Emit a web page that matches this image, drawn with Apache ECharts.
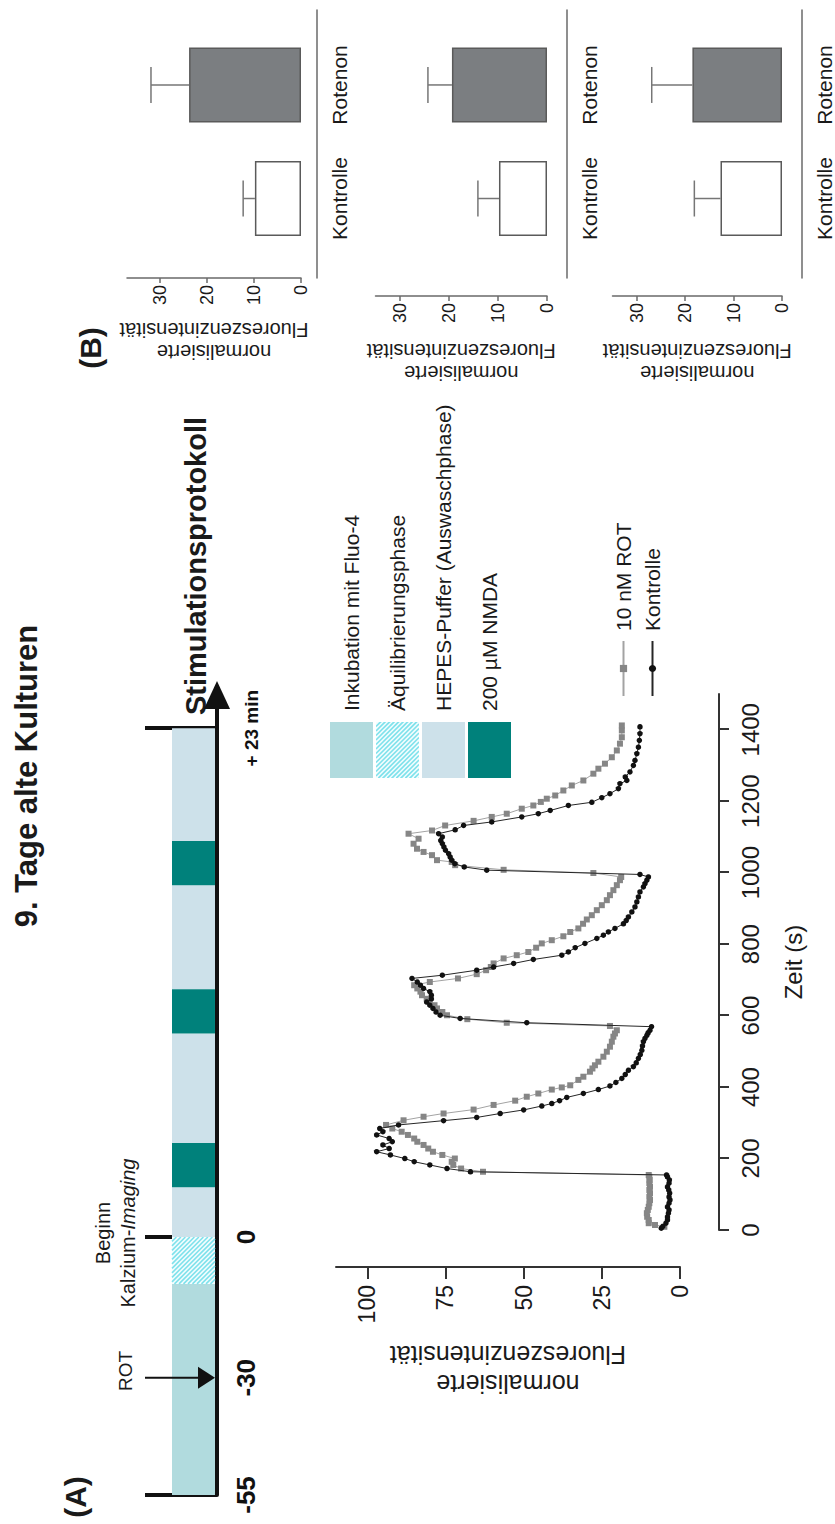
<!DOCTYPE html>
<html>
<head>
<meta charset="utf-8">
<title>9. Tage alte Kulturen</title>
<script src="https://cdn.jsdelivr.net/npm/echarts@6/dist/echarts.min.js"></script>
<style>
  html, body { margin: 0; padding: 0; background: #fff; overflow: hidden; }
  #wrap { position: relative; width: 835px; height: 1524px; overflow: hidden; }
  /* Abbildung liegt quer: im Querformat zeichnen und um 90° drehen */
  #chart {
    position: absolute; left: 0; top: 0; width: 1524px; height: 835px;
    transform-origin: 0 0; transform: translate(0, 1524px) rotate(-90deg);
  }
</style>
</head>
<body>
<div id="wrap"><div id="chart"></div></div>
<script>
// (A) Stimulationsprotokoll, Zeiten in min
const phaseNames = ['Inkubation mit Fluo-4', 'Äquilibrierungsphase', 'HEPES-Puffer (Auswaschphase)', '200 µM NMDA'];
const prePhases = [[-55, -10, 0], [-10, 0, 1]];
const imagingPhases = [[0, 2.25, 2], [2.25, 4.25, 3], [4.25, 9.2, 2], [9.2, 11.2, 3], [11.2, 15.9, 2], [15.9, 17.9, 3], [17.9, 23, 2]];
const preLabels = [-55, -30, 0];
const preMarks = [-55, 0];
const imagingEnd = [23];
const rotTime = [-30];

// Kalzium-Imaging, Zeit (s) / normalisierte Fluoreszenz
const timeTicks = [0, 200, 400, 600, 800, 1000, 1200, 1400];
const fluoTicks = [0, 25, 50, 75, 100];
const rotData = [
  [9, 5], [14, 8], [19, 10], [28, 10], [37, 10.5], [47, 10.6], [56, 10.3], [65, 10], [75, 9.8], [84, 9.6], [93, 9.8],
  [103, 9.6], [112, 9.8], [121, 9.6], [131, 9.8], [140, 9.7], [149, 9.8], [154, 10],
  [163, 63], [172, 70], [182, 72.5], [191, 73], [200, 72], [210, 76], [219, 79], [228, 80.5], [238, 82], [247, 84],
  [256, 85], [266, 87], [275, 89], [284, 92], [294, 94], [307, 88.4], [317, 82], [326, 75.6], [337, 66], [350, 59.6],
  [362, 52.7], [373, 49], [382, 45.3], [393, 41], [399, 37.8], [405, 35.1], [420, 32.5], [429, 30.9], [443, 28.8],
  [452, 28], [461, 27.2], [471, 26.1], [485, 24.5], [499, 23.4], [513, 22.4], [527, 21.8], [541, 21.3], [550, 20.8],
  [559, 20.2], [571, 22.4],
  [580, 55.4], [590, 68], [601, 74.5], [610, 76], [620, 77.7], [629, 78.5], [638, 80], [647, 81], [657, 82.5], [667, 83],
  [676, 84], [685, 85], [694, 80], [704, 71], [716, 65], [727, 62], [736, 60.5], [746, 59.6], [760, 56.4], [769, 52.2],
  [778, 48.5], [790, 46], [802, 44.2], [811, 41], [822, 37.3], [834, 35.1], [844, 32.5], [857, 31], [869, 29.8],
  [881, 28.2], [895, 26.6], [909, 25], [923, 23.4], [937, 22.4], [951, 21.3], [965, 20.2], [979, 19.2], [988, 18.8],
  [999, 27.7],
  [1008, 56.4], [1021, 71.9], [1030, 73], [1035, 77.7], [1049, 79.3], [1058, 82], [1067, 84.1], [1081, 85.2],
  [1095, 83.6], [1109, 86.8], [1118, 79.3], [1132, 75.1], [1145, 66], [1156, 60.2], [1165, 55.4], [1179, 50.6],
  [1188, 46.9], [1198, 44.5], [1207, 42.6], [1216, 39.9], [1230, 37.3], [1244, 34.6], [1258, 30.9], [1277, 27.7],
  [1291, 26.1], [1305, 24], [1323, 21.8], [1342, 20.2], [1361, 19.2], [1379, 18.6], [1398, 18.6], [1412, 18.6]
];
const kontrolleData = [
  [5, 6], [10, 5.5], [19, 4.5], [28, 4], [37, 4], [47, 3.7], [56, 3.5], [65, 4], [75, 3.5], [84, 3.2], [93, 3.5],
  [103, 3.3], [112, 3.6], [121, 4], [131, 3.5], [140, 3.4], [149, 4], [154, 4.3],
  [163, 67], [172, 74.5], [182, 80], [191, 85], [200, 88], [210, 92.6], [219, 97], [228, 93], [238, 95], [247, 92],
  [256, 93], [266, 97], [275, 95], [284, 96], [294, 90], [306, 75.6], [315, 65], [326, 57.5], [336, 50], [347, 44.2],
  [354, 41], [362, 38.5], [371, 36.2], [382, 30.9], [393, 26.1], [403, 22.4], [413, 20.5], [424, 18.6], [435, 17.5],
  [447, 16.5], [457, 14.9], [468, 14], [480, 13.3], [491, 12.7], [503, 12.2], [515, 12], [527, 11.7], [536, 11.2],
  [545, 10.6], [552, 10.2], [559, 9.6], [569, 9.1],
  [580, 49], [592, 70.3], [601, 76.7], [610, 78], [620, 79], [629, 80], [638, 81], [647, 79.5], [657, 79.5], [667, 80],
  [676, 82], [685, 83], [694, 84], [704, 85.7], [713, 76], [727, 65], [736, 59.6], [746, 53.2], [757, 46.9], [769, 37.8],
  [778, 35.7], [790, 33.5], [802, 30.4], [816, 26.6], [825, 24.5], [834, 22.9], [844, 20.8], [857, 18.1], [866, 17.2],
  [876, 16.5], [890, 15.4], [904, 14.4], [918, 13.8], [932, 13.3], [946, 12.8], [960, 11.7], [969, 11.2], [979, 10.6],
  [988, 10.1], [995, 12.8],
  [1007, 61.8], [1016, 69], [1025, 72], [1035, 73], [1044, 73.5], [1053, 74], [1063, 75], [1072, 75.5], [1081, 76],
  [1090, 76.5], [1100, 76], [1109, 77.2], [1120, 71.9], [1132, 69.2], [1142, 60.2], [1156, 50.6], [1165, 45.3],
  [1174, 41.5], [1188, 35.7], [1197, 28.2], [1210, 25], [1221, 22.4], [1235, 19.7], [1249, 19.2], [1258, 17],
  [1268, 17.5], [1282, 16], [1300, 14.9], [1314, 14.4], [1333, 13.8], [1351, 13.3], [1370, 13], [1389, 12.8], [1408, 12.8]
];

// (B) Balken: Mittelwert und Fehler je Panel
const barCategories = ['Kontrolle', 'Rotenon'];
const barMeans = [[9.8, 23.8], [9.8, 19.4], [12.7, 18.5]];
const barErrors = [[2.5, 8.1], [4.3, 4.9], [5.4, 8.4]];
const barTicks = [0, 10, 20, 30];

const FONT = '"Liberation Sans", Arial, Helvetica, sans-serif';
const INK = '#1a1a1a';
const phaseColors = ['#b1dbde', '#f4fdfe', '#cde1ea', '#00817b'];
const hatchColor = '#7fe2ec';
const BAND_TOP = 0.625, BAND_BOTTOM = 0.028;

function hatchIcon() {
  const c = document.createElement('canvas');
  c.width = 56; c.height = 43;
  const g = c.getContext('2d');
  g.fillStyle = phaseColors[1];
  g.fillRect(0, 0, 56, 43);
  g.strokeStyle = hatchColor;
  g.lineWidth = 1.6;
  for (let k = -43; k < 56; k += 4.5) {
    g.beginPath(); g.moveTo(k, 0); g.lineTo(k + 43, 43); g.stroke();
  }
  return 'image://' + c.toDataURL();
}

function phaseItem(params, api) {
  const a = api.coord([api.value(0), BAND_TOP]);
  const b = api.coord([api.value(1), BAND_BOTTOM]);
  const x = a[0], y = a[1], w = b[0] - a[0], h = b[1] - a[1];
  const k = api.value(2);
  if (k !== 1) {
    return { type: 'rect', shape: { x, y, width: w, height: h }, style: { fill: phaseColors[k] } };
  }
  // schraffierte Phase
  const children = [{ type: 'rect', shape: { x, y, width: w, height: h }, style: { fill: phaseColors[1] } }];
  for (let c = x - h; c < x + w; c += 4.5) {
    const t0 = Math.max(0, x - c), t1 = Math.min(h, x + w - c);
    if (t1 > t0) {
      children.push({ type: 'line', shape: { x1: c + t0, y1: y + t0, x2: c + t1, y2: y + t1 },
        style: { stroke: hatchColor, lineWidth: 1.6 } });
    }
  }
  return { type: 'group', children };
}

function rotArrow(params, api) {
  const top = api.coord([api.value(0), 1]);
  const bot = api.coord([api.value(0), 0]);
  return {
    type: 'group',
    children: [
      { type: 'line', shape: { x1: top[0], y1: top[1], x2: bot[0], y2: bot[1] - 14 }, style: { stroke: '#111', lineWidth: 2 } },
      { type: 'polygon', shape: { points: [[bot[0] - 11, bot[1] - 19], [bot[0] + 11, bot[1] - 19], [bot[0], bot[1] - 2]] },
        style: { fill: '#111' } }
    ]
  };
}

function errorItem(params, api) {
  const x = api.value(0), m = api.value(1), e = api.value(2);
  const base = api.coord([x, m]);
  const tip = api.coord([x, m + e]);
  const st = { stroke: '#767676', lineWidth: 1.5 };
  return {
    type: 'group',
    children: [
      { type: 'line', shape: { x1: base[0], y1: base[1], x2: tip[0], y2: tip[1] }, style: st },
      { type: 'line', shape: { x1: tip[0] - 18, y1: tip[1], x2: tip[0] + 18, y2: tip[1] }, style: st }
    ]
  };
}

const chart = echarts.init(document.getElementById('chart'), null, { renderer: 'svg' });

// Balken-Panels (Querformat-Koordinaten)
const panels = [
  { top: 127, height: 174, max: 37, yOffset: 0, xOffset: 16, nameGap: 41 },
  { top: 375.5, height: 171.5, max: 35, yOffset: 18, xOffset: 20, nameGap: 44 },
  { top: 612.5, height: 170.5, max: 35, yOffset: 18, xOffset: 20, nameGap: 44 }
];

const plain = v => String(v);

const grid = [
  { left: 29, top: 145, width: 258, height: 72 },
  { left: 287, top: 145, width: 542, height: 72 },
  { left: 294, top: 336, width: 536, height: 344 }
];
const xAxis = [
  {
    type: 'value', gridIndex: 0, min: -55, max: 0,
    axisLine: { onZero: false, lineStyle: { color: '#111', width: 4 } },
    axisTick: { inside: true, length: 72, customValues: preMarks, lineStyle: { color: '#111', width: 4 } },
    axisLabel: { customValues: preLabels, formatter: plain, fontSize: 26, fontWeight: 'bold', fontFamily: FONT,
      color: '#111', margin: 16 },
    splitLine: { show: false }
  },
  {
    type: 'value', gridIndex: 1, min: 0, max: 24.5,
    axisLine: { onZero: false, symbol: ['none', 'triangle'], symbolSize: [26, 28], lineStyle: { color: '#111', width: 4 } },
    axisTick: { inside: true, length: 72, customValues: imagingEnd, lineStyle: { color: '#111', width: 4 } },
    axisLabel: { customValues: imagingEnd, formatter: v => '+ ' + v + ' min', fontSize: 19, fontWeight: 'bold',
      fontFamily: FONT, color: '#111', margin: 25 },
    splitLine: { show: false }
  },
  {
    type: 'value', gridIndex: 2, min: 0, max: 1500, offset: 39,
    name: 'Zeit (s)', nameLocation: 'middle', nameGap: 62,
    nameTextStyle: { fontSize: 24, fontFamily: FONT, color: INK },
    axisLine: { onZero: false, lineStyle: { color: '#333', width: 2 } },
    axisTick: { customValues: timeTicks, length: 10, lineStyle: { color: '#333', width: 2 } },
    axisLabel: { customValues: timeTicks, formatter: plain, fontSize: 24, fontFamily: FONT, color: INK, margin: 19 },
    splitLine: { show: false }
  }
];
const yAxis = [
  { type: 'value', gridIndex: 0, min: 0, max: 1, show: false },
  { type: 'value', gridIndex: 1, min: 0, max: 1, show: false },
  {
    type: 'value', gridIndex: 2, min: 0, max: 110, offset: 37,
    name: 'normalisierte\nFluoreszenzintensität', nameLocation: 'middle', nameRotate: 90, nameGap: 73,
    nameTextStyle: { fontSize: 25, lineHeight: 29, fontFamily: FONT, color: INK },
    axisLine: { show: true, onZero: false, lineStyle: { color: '#333', width: 2 } },
    axisTick: { show: true, customValues: fluoTicks, length: 12, lineStyle: { color: '#333', width: 2 } },
    axisLabel: { customValues: fluoTicks, formatter: plain, fontSize: 23, fontFamily: FONT, color: INK, margin: 18 },
    splitLine: { show: false }
  }
];

const series = [];
phaseNames.forEach((name, k) => {
  const pre = k < 2;
  series.push({
    name, type: 'custom', xAxisIndex: pre ? 0 : 1, yAxisIndex: pre ? 0 : 1,
    itemStyle: { color: k === 1 ? hatchColor : phaseColors[k] },
    encode: { x: [0, 1] },
    data: (pre ? prePhases : imagingPhases).filter(p => p[2] === k),
    renderItem: phaseItem, silent: true, z: 2
  });
});
series.push({
  type: 'custom', xAxisIndex: 0, yAxisIndex: 0, encode: { x: 0 },
  data: rotTime.map(t => [t]), renderItem: rotArrow, silent: true, z: 3
});
series.push({
  name: '10 nM ROT', type: 'line', xAxisIndex: 2, yAxisIndex: 2, data: rotData,
  symbol: 'rect', symbolSize: 6, showAllSymbol: true,
  lineStyle: { color: '#a3a3a3', width: 1 }, itemStyle: { color: '#868686' }, z: 3
});
series.push({
  name: 'Kontrolle', type: 'line', xAxisIndex: 2, yAxisIndex: 2, data: kontrolleData,
  symbol: 'circle', symbolSize: 5.5, showAllSymbol: true,
  lineStyle: { color: '#262626', width: 1 }, itemStyle: { color: '#111' }, z: 4
});

const barStyles = [
  { color: '#ffffff', borderColor: '#5a5a5a', borderWidth: 1.5 },
  { color: '#7b7e81', borderColor: '#5a5a5a', borderWidth: 1.5 }
];
panels.forEach((p, i) => {
  const gi = 3 + i;
  grid.push({ left: 1246, width: 268, top: p.top, height: p.height });
  xAxis.push({
    type: 'value', gridIndex: gi, min: 0.3, max: 2.66, offset: p.xOffset,
    axisLine: { onZero: false, lineStyle: { color: '#6a6a6a', width: 1.5 } },
    axisTick: { show: false },
    axisLabel: { customValues: [1, 2], formatter: v => barCategories[Math.round(v) - 1],
      fontSize: 21, fontFamily: FONT, color: INK, margin: 12 },
    splitLine: { show: false }
  });
  yAxis.push({
    type: 'value', gridIndex: gi, min: 0, max: p.max, offset: p.yOffset,
    name: 'normalisierte\nFluoreszenzintensität', nameLocation: 'middle', nameRotate: 90, nameGap: p.nameGap,
    nameTextStyle: { fontSize: 20, lineHeight: 22, fontFamily: FONT, color: INK },
    axisLine: { show: true, onZero: false, lineStyle: { color: '#6a6a6a', width: 1.5 } },
    axisTick: { show: true, customValues: barTicks, length: 5, lineStyle: { color: '#6a6a6a', width: 1.5 } },
    axisLabel: { customValues: barTicks, formatter: plain, fontSize: 18, fontFamily: FONT, color: INK, margin: 7 },
    splitLine: { show: false }
  });
  series.push({
    type: 'bar', xAxisIndex: gi, yAxisIndex: gi, barWidth: 75, silent: true,
    data: barMeans[i].map((m, j) => ({ value: [j + 1, m], itemStyle: barStyles[j] }))
  });
  series.push({
    type: 'custom', xAxisIndex: gi, yAxisIndex: gi, encode: { x: 0, y: 1 }, silent: true,
    data: barMeans[i].map((m, j) => [j + 1, m, barErrors[i][j]]), renderItem: errorItem, z: 3
  });
});

const option = {
  animation: false,
  backgroundColor: '#ffffff',
  textStyle: { fontFamily: FONT },
  grid, xAxis, yAxis, series,
  legend: [
    {
      orient: 'vertical', left: 741, top: 325, itemWidth: 56, itemHeight: 43, itemGap: 3,
      selectedMode: false,
      textStyle: { fontSize: 21, fontFamily: FONT, color: INK, padding: [0, 0, 0, 6] },
      data: phaseNames.map((n, k) => k === 1 ? { name: n, icon: hatchIcon() } : { name: n, icon: 'rect' })
    },
    {
      orient: 'vertical', left: 822, top: 608, itemWidth: 55, itemHeight: 9, itemGap: 8,
      selectedMode: false,
      textStyle: { fontSize: 21, fontFamily: FONT, color: INK, padding: [0, 0, 0, 5] },
      data: ['10 nM ROT', 'Kontrolle']
    }
  ],
  graphic: [
    { type: 'text', x: 748, y: 26, style: { text: '9. Tage alte Kulturen', fontSize: 31, fontWeight: 'bold',
      fontFamily: FONT, fill: INK, align: 'center', verticalAlign: 'middle' } },
    { type: 'text', x: 27, y: 75, style: { text: '(A)', fontSize: 30, fontWeight: 'bold',
      fontFamily: FONT, fill: INK, align: 'center', verticalAlign: 'middle' } },
    { type: 'text', x: 1176, y: 90, style: { text: '(B)', fontSize: 30, fontWeight: 'bold',
      fontFamily: FONT, fill: INK, align: 'center', verticalAlign: 'middle' } },
    { type: 'text', x: 809, y: 196, style: { text: 'Stimulationsprotokoll', fontSize: 29, fontWeight: 'bold',
      fontFamily: FONT, fill: INK, align: 'left', verticalAlign: 'middle' } },
    { type: 'text', x: 153, y: 125, style: { text: 'ROT', fontSize: 19,
      fontFamily: FONT, fill: INK, align: 'center', verticalAlign: 'middle' } },
    { type: 'text', x: 291, y: 115, style: {
      text: '{n|Beginn}\n{n|Kalzium-}{i|Imaging}', align: 'center', verticalAlign: 'middle',
      rich: {
        n: { fontSize: 20, fontFamily: FONT, fill: INK, lineHeight: 25 },
        i: { fontSize: 20, fontFamily: FONT, fontStyle: 'italic', fill: INK, lineHeight: 25 }
      } } }
  ]
};

chart.setOption(option);
window.onresize = chart.resize;
</script>
</body>
</html>
